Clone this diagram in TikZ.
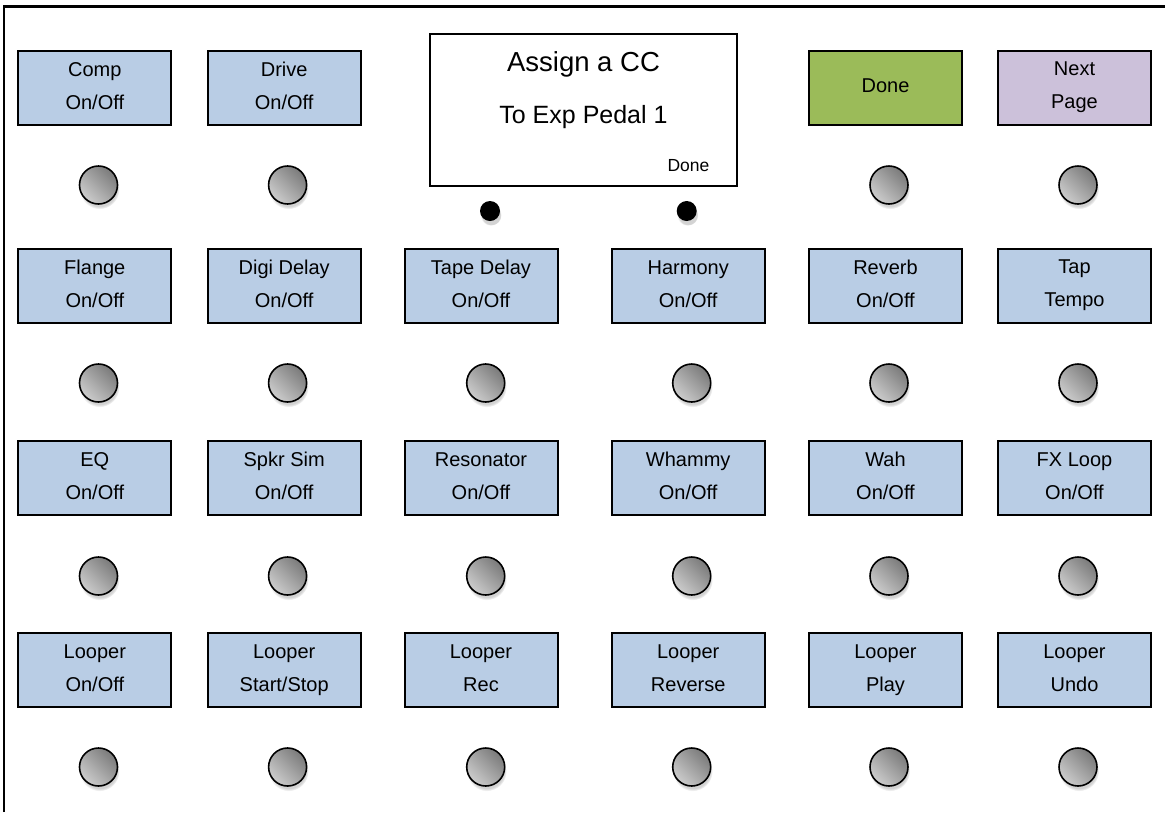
\documentclass[tikz,border=0pt]{standalone}
\usepackage{fontspec}
\setmainfont{Liberation Sans}
\usetikzlibrary{shadows}
\definecolor{btnblue}{HTML}{B9CDE5}
\definecolor{btngreen}{HTML}{9BBB59}
\definecolor{btnpurple}{HTML}{CCC1DA}
\newcommand\bxs{\rule[-3.6pt]{0pt}{15pt}}
\newcommand\twolines[2]{\bxs #1\\\bxs #2}
\begin{document}
\begin{tikzpicture}[x=1pt,y=-1pt,
  btn/.style={draw, line width=2pt, minimum width=153pt, minimum height=74pt,
    inner sep=0pt, align=center, font=\fontsize{20}{33}\selectfont, fill=btnblue,
    drop shadow={shadow xshift=1pt, shadow yshift=-1pt, opacity=0.15}},
  knob/.style={circle, draw, line width=1.6pt, minimum size=38pt, inner sep=0pt,
    top color=black!52, bottom color=black!20, shading angle=-45,
    circular drop shadow={shadow xshift=1pt, shadow yshift=-4pt, shadow scale=1.05, opacity=0.35}},
  dotknob/.style={circle, fill=black, minimum size=20pt, inner sep=0pt,
    circular drop shadow={shadow xshift=1pt, shadow yshift=-4pt, shadow scale=1.05, opacity=0.35}},
  frame/.style={line width=2.2pt}
]
\useasboundingbox (0,0) rectangle (1165,812);
% outer frame (cropped on right and bottom)
\draw[frame] (4,812) -- (4,6.5) -- (1165,6.5);

% display
\node[draw, line width=2pt, fill=white, minimum width=307pt, minimum height=152pt, inner sep=0pt] (disp) at (583.8,109.7) {};
\node[anchor=base, font=\fontsize{27.5}{30}\selectfont, inner sep=0pt] (t1) at (583.5,71.5) {Assign a CC};
\node[anchor=base, font=\fontsize{25}{28}\selectfont, inner sep=0pt] (t2) at (583.5,123) {To Exp Pedal 1};
\node[anchor=base, font=\fontsize{17.5}{20}\selectfont, inner sep=0pt] (t3) at (688.5,171.5) {Done};
\node[dotknob] (d1) at (490,211) {};
\node[dotknob] (d2) at (686.7,211) {};

% row 1
\node[btn] (b11) at (94.8,87.5) {\twolines{Comp}{On/Off}};
\node[btn] (b12) at (284.2,87.5) {\twolines{Drive}{On/Off}};
\node[btn, fill=btngreen] (b15) at (885.5,87.5) {\bxs Done};
\node[btn, fill=btnpurple] (b16) at (1074.5,87.5) {\twolines{Next}{Page}};
% row 2
\node[btn] (b21) at (94.8,285.5) {\twolines{Flange}{On/Off}};
\node[btn] (b22) at (284.2,285.5) {\twolines{Digi Delay}{On/Off}};
\node[btn] (b23) at (481,285.5) {\twolines{Tape Delay}{On/Off}};
\node[btn] (b24) at (688.2,285.5) {\twolines{Harmony}{On/Off}};
\node[btn] (b25) at (885.5,285.5) {\twolines{Reverb}{On/Off}};
\node[btn] (b26) at (1074.5,285.5) {\twolines{Tap}{Tempo}};
% row 3
\node[btn] (b31) at (94.8,478) {\twolines{EQ}{On/Off}};
\node[btn] (b32) at (284.2,478) {\twolines{Spkr Sim}{On/Off}};
\node[btn] (b33) at (481,478) {\twolines{Resonator}{On/Off}};
\node[btn] (b34) at (688.2,478) {\twolines{Whammy}{On/Off}};
\node[btn] (b35) at (885.5,478) {\twolines{Wah}{On/Off}};
\node[btn] (b36) at (1074.5,478) {\twolines{FX Loop}{On/Off}};
% row 4
\node[btn] (b41) at (94.8,670) {\twolines{Looper}{On/Off}};
\node[btn] (b42) at (284.2,670) {\twolines{Looper}{Start/Stop}};
\node[btn] (b43) at (481,670) {\twolines{Looper}{Rec}};
\node[btn] (b44) at (688.2,670) {\twolines{Looper}{Reverse}};
\node[btn] (b45) at (885.5,670) {\twolines{Looper}{Play}};
\node[btn] (b46) at (1074.5,670) {\twolines{Looper}{Undo}};

% knobs
\node[knob] (k11) at (98.5,185) {};
\node[knob] (k12) at (287.6,185) {};
\node[knob] (k15) at (889,185) {};
\node[knob] (k16) at (1078,185) {};
\foreach \r/\y in {2/383,3/576,4/767}{
  \node[knob] (k\r1) at (98.5,\y) {};
  \node[knob] (k\r2) at (287.6,\y) {};
  \node[knob] (k\r3) at (485.7,\y) {};
  \node[knob] (k\r4) at (691.7,\y) {};
  \node[knob] (k\r5) at (889,\y) {};
  \node[knob] (k\r6) at (1078,\y) {};
}
\end{tikzpicture}
\end{document}
